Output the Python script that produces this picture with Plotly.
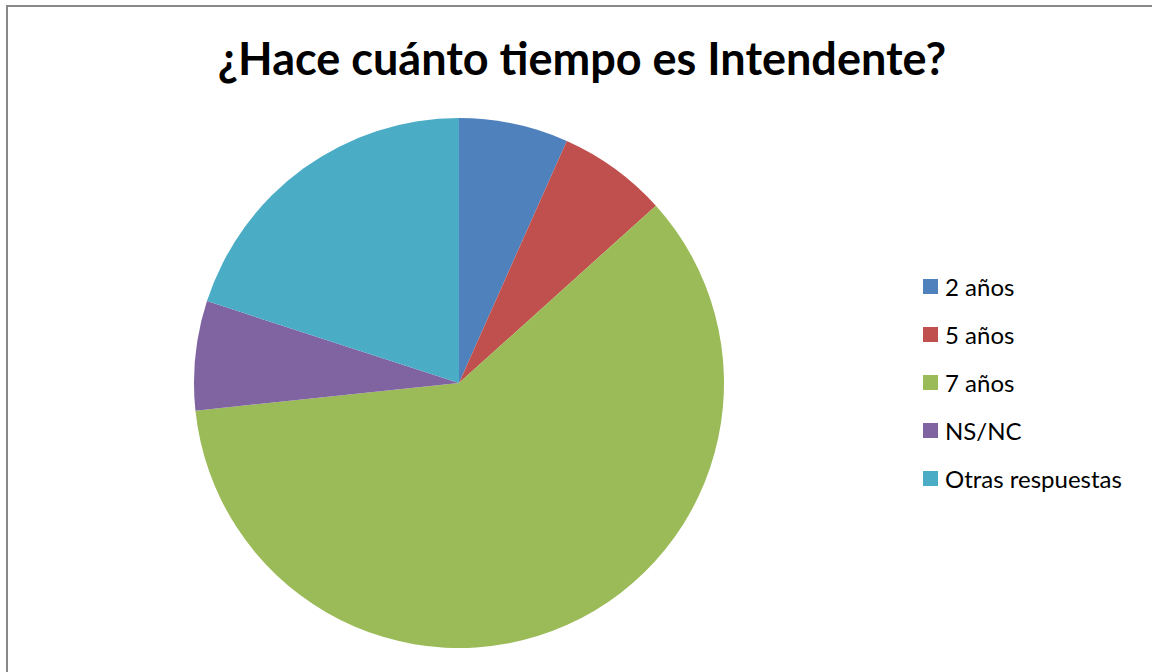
import plotly.graph_objects as go

# Survey answers: how long the respondent has been Intendente
categories = ["2 años", "5 años", "7 años", "NS/NC", "Otras respuestas"]
counts = [1, 1, 9, 1, 3]
colors = ["#4F81BD", "#C0504D", "#9BBB59", "#8064A2", "#4BACC6"]

title_text = "¿Hace cuánto tiempo es Intendente?"

W, H = 1152, 672

fig = go.Figure()
fig.add_trace(go.Pie(
    labels=categories,
    values=counts,
    sort=False,
    direction="clockwise",
    rotation=0,
    marker=dict(colors=colors, line=dict(width=0)),
    textinfo="none",
    hoverinfo="label+value+percent",
    showlegend=False,
    domain=dict(x=[194 / W, 724 / W], y=[1 - 648 / H, 1 - 118 / H]),
))

# Chart frame plus a legend drawn as colour swatches with labels on the right
shapes = [dict(type="rect", xref="paper", yref="paper",
               x0=7 / W, x1=1.02, y0=-0.02, y1=1 - 6 / H,
               line=dict(color="#898989", width=2), fillcolor="rgba(0,0,0,0)")]
annotations = []
y0 = 286.5
step = 48
for i, (cat, col) in enumerate(zip(categories, colors)):
    yc = y0 + i * step
    shapes.append(dict(type="rect", xref="paper", yref="paper",
                       x0=923 / W, x1=938 / W,
                       y0=1 - (yc + 7.5) / H, y1=1 - (yc - 7.5) / H,
                       fillcolor=col, line=dict(width=0)))
    annotations.append(dict(text=cat, xref="paper", yref="paper",
                            x=943 / W, y=1 - yc / H, xanchor="left", yanchor="middle",
                            showarrow=False,
                            font=dict(family="Lato, Carlito, sans-serif", size=24, color="#000000")))

fig.update_layout(
    width=W, height=H,
    margin=dict(l=0, r=0, t=0, b=0),
    paper_bgcolor="white",
    plot_bgcolor="white",
    title=dict(text=title_text, x=582 / W, xanchor="center", y=1 - 59 / H, yanchor="middle",
               font=dict(family="Lato, Carlito, sans-serif", size=45, color="#000000", weight="bold")),
    shapes=shapes,
    annotations=annotations,
)

fig.write_html("out.html")
